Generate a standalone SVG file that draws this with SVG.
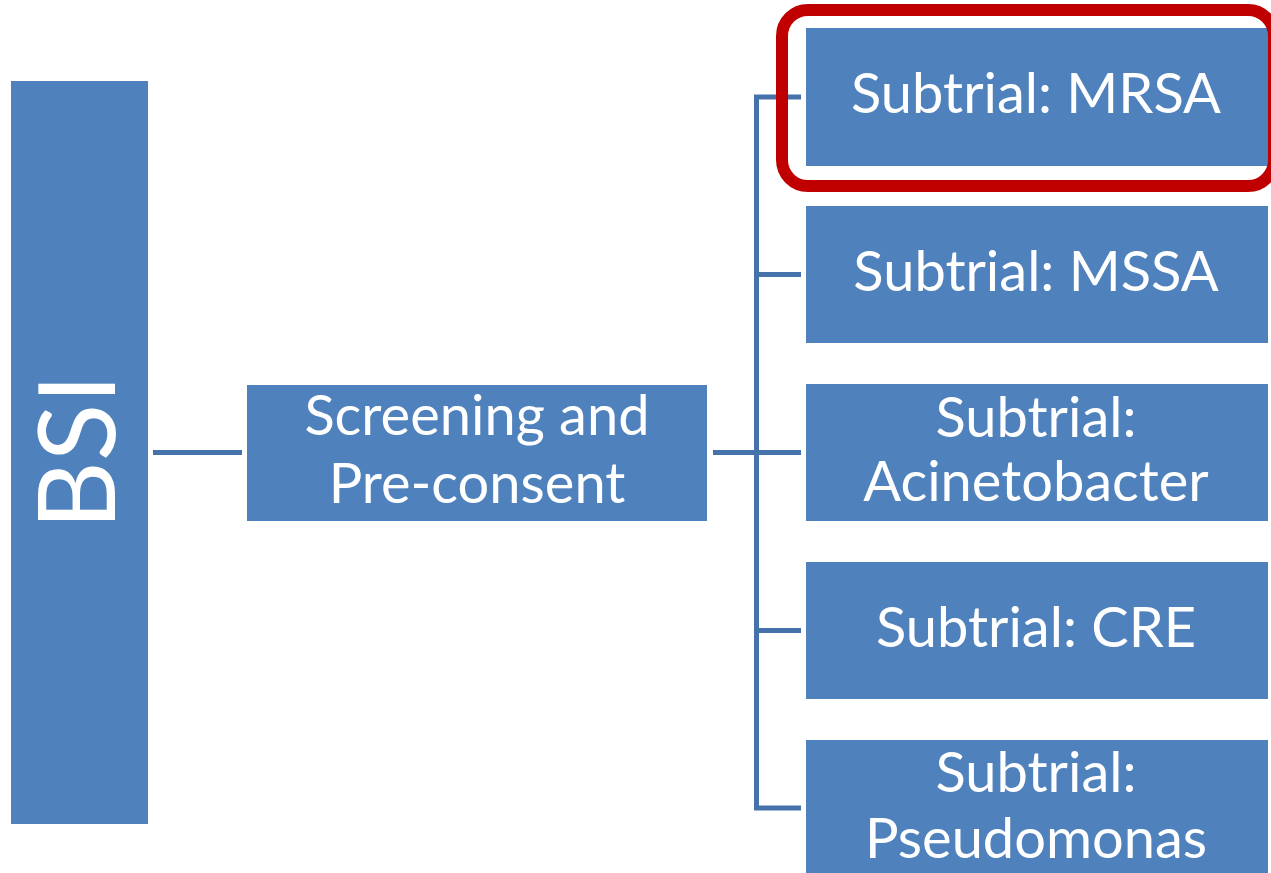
<svg xmlns="http://www.w3.org/2000/svg" width="1271" height="873" viewBox="0 0 1271 873">
  <style>
    .box { fill: #4F81BD; }
    .lbl { fill: #FFFFFF; font-family: "Lato", "Noto Sans", sans-serif; font-size: 56px; text-anchor: middle; }
    .link { fill: none; stroke: #4672AC; stroke-width: 5; }
    .hl { fill: none; stroke: #C00000; stroke-width: 12; }
  </style>

  <!-- connectors -->
  <g id="connectors">
    <line class="link" x1="153" y1="452.5" x2="242" y2="452.5"/>
    <line class="link" x1="713" y1="452.5" x2="801" y2="452.5"/>
    <path class="link" d="M801 97 H756.5 V808 H801"/>
    <line class="link" x1="756.5" y1="274.5" x2="801" y2="274.5"/>
    <line class="link" x1="756.5" y1="630.5" x2="801" y2="630.5"/>
  </g>

  <g id="bsi">
    <rect class="box" x="11" y="81" width="137" height="743"/>
    <text class="lbl" style="font-size:106px" transform="translate(115,452) rotate(-90)">BSI</text>
  </g>

  <g id="screening">
    <rect class="box" x="247" y="385" width="460" height="136"/>
    <text class="lbl" x="477" y="435">Screening and</text>
    <text class="lbl" x="477" y="503">Pre-consent</text>
  </g>

  <g id="mrsa">
    <rect class="box" x="806" y="28" width="462" height="138"/>
    <text class="lbl" x="1036" y="113">Subtrial: MRSA</text>
  </g>

  <g id="mssa">
    <rect class="box" x="806" y="206" width="462" height="137"/>
    <text class="lbl" x="1036" y="291">Subtrial: MSSA</text>
  </g>

  <g id="acinetobacter">
    <rect class="box" x="806" y="384" width="462" height="137"/>
    <text class="lbl" x="1036" y="437">Subtrial:</text>
    <text class="lbl" x="1036" y="501">Acinetobacter</text>
  </g>

  <g id="cre">
    <rect class="box" x="806" y="562" width="462" height="137"/>
    <text class="lbl" x="1036" y="647">Subtrial: CRE</text>
  </g>

  <g id="pseudomonas">
    <rect class="box" x="806" y="740" width="462" height="137"/>
    <text class="lbl" x="1036" y="792">Subtrial:</text>
    <text class="lbl" x="1036" y="858">Pseudomonas</text>
  </g>

  <!-- highlight frame around the MRSA subtrial -->
  <g id="highlight">
    <rect class="hl" x="782" y="10" width="492" height="176" rx="26"/>
  </g>
</svg>
